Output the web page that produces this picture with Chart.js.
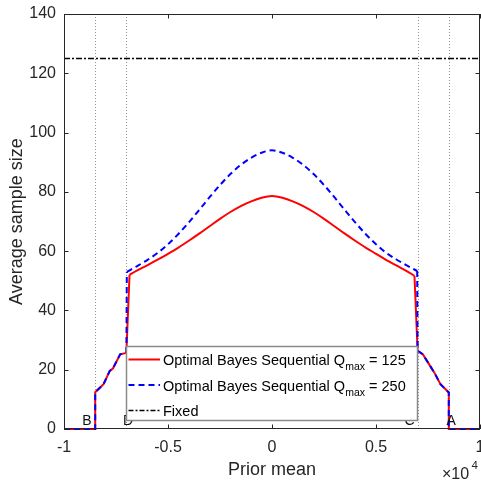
<!DOCTYPE html>
<html>
<head>
<meta charset="utf-8">
<script src="https://cdn.jsdelivr.net/npm/chart.js@4.4.1/dist/chart.umd.min.js"></script>
<style>
  html, body { margin: 0; padding: 0; background: #fff; }
  #wrap { width: 481px; height: 483px; }
</style>
</head>
<body>
<div id="wrap"><canvas id="chart" width="481" height="483"></canvas></div>
<script>
// ── data ──
// the flat/step parts at both ends (drawn straight)
const redLeftX = [-10000, -8500, -8500, -8100, -7800, -7650, -7300, -7050, -7000, -6850];
const redLeftY = [0, 0, 12.4, 15.1, 19.6, 20.4, 25.2, 25.6, 26, 52];
const redRightX = [6850, 7000, 7250, 7600, 7800, 8100, 8500, 8500, 10000];
const redRightY = [51.7, 26.4, 25.2, 21.3, 19.1, 15.1, 12.3, 0, 0];

const blueLeftX = [-10000, -8500, -8500, -8100, -7800, -7650, -7300, -7050, -7000, -6980];
const blueLeftY = [0, 0, 12.4, 15.1, 19.6, 20.4, 25.2, 25.6, 26, 53];
const blueRightX = [6980, 7000, 7250, 7600, 7800, 8100, 8500, 8500, 10000];
const blueRightY = [53.3, 26.4, 25.2, 21.3, 19.1, 15.1, 12.3, 0, 0];

// the smooth middle part
const redHumpX = [-6850, -6500, -6000, -5500, -5000, -4500, -4000, -3500, -3000, -2500, -2000,
  -1500, -1000, -500, 0, 500, 1000, 1500, 2000, 2500, 3000, 3500, 4000, 4500, 5000, 5500,
  6000, 6500, 6850];
const redHumpY = [52, 53.4, 55.2, 57.1, 59.1, 61.2, 63.5, 65.9, 68.4, 70.9, 73.2,
  75.2, 76.8, 78.0, 78.6, 78.0, 76.8, 75.2, 73.2, 70.9, 68.4, 65.9, 63.5, 61.2, 59.1, 57.0,
  55.1, 53.2, 51.7];

const blueHumpX = [-6980, -6500, -6000, -5500, -5000, -4500, -4000, -3500, -3000, -2500, -2000,
  -1500, -1000, -500, 0, 500, 1000, 1500, 2000, 2500, 3000, 3500, 4000, 4500, 5000, 5500,
  6000, 6500, 6980];
const blueHumpY = [53, 54.9, 57.0, 59.4, 62.3, 65.8, 69.7, 73.9, 78.2, 82.3, 86.0,
  89.1, 91.5, 93.2, 94, 93.2, 91.5, 89.1, 86.0, 82.3, 78.2, 73.9, 69.7, 65.8, 62.3, 59.4,
  57.1, 55.1, 53.3];

const fixedX = [-10000, 10000];
const fixedY = [125, 125];

const markerX = [-8500, -7000, 7000, 8500];       // dotted verticals
const letterText = ['B', 'D', 'C', 'A'];
const letterX = [-8900, -6920, 6610, 8610];
const letterY = [1.3, 1.3, 1.3, 1.3];

const xTicks = [-10000, -5000, 0, 5000, 10000];
const yTicks = [0, 20, 40, 60, 80, 100, 120, 140];

const legendNames = ['Optimal Bayes Sequential Q', 'Optimal Bayes Sequential Q', 'Fixed'];
const legendQmax = ['125', '250', null];

const pts = (xs, ys) => xs.map((x, i) => ({ x, y: ys[i] }));

const FONT = '"Liberation Sans", Arial, Helvetica, sans-serif';
const AXIS = '#262626';
const RED = '#ff0000';
const BLUE = '#0000ff';

const redLine = (data, smooth) => ({
  data, borderColor: RED, borderWidth: 2, pointRadius: 0, clip: 3, order: 2,
  tension: 0, cubicInterpolationMode: smooth ? 'monotone' : 'default',
});
const blueLine = (data, smooth) => ({
  data, borderColor: BLUE, borderWidth: 2, borderDash: [6, 4], pointRadius: 0, clip: 3, order: 1,
  tension: 0, cubicInterpolationMode: smooth ? 'monotone' : 'default',
});

// ── extra drawing: dotted guides, letters, box + inner ticks, legend ──
const decor = {
  id: 'decor',
  beforeDatasetsDraw(chart) {
    const { ctx, chartArea: a, scales: { x } } = chart;
    ctx.save();
    ctx.strokeStyle = '#777';
    ctx.lineWidth = 0.8;
    ctx.setLineDash([1, 2]);
    markerX.forEach(v => {
      const px = Math.round(x.getPixelForValue(v)) + 0.5;
      ctx.beginPath();
      ctx.moveTo(px, a.top);
      ctx.lineTo(px, a.bottom);
      ctx.stroke();
    });
    ctx.restore();
  },
  afterDatasetsDraw(chart) {
    const { ctx, chartArea: a, scales: { x, y } } = chart;
    ctx.save();
    // letters
    ctx.fillStyle = '#111';
    ctx.font = '14px ' + FONT;
    ctx.textAlign = 'center';
    ctx.textBaseline = 'alphabetic';
    letterText.forEach((t, i) => {
      ctx.fillText(t, x.getPixelForValue(letterX[i]), y.getPixelForValue(letterY[i]));
    });
    // box
    ctx.strokeStyle = AXIS;
    ctx.lineWidth = 1;
    ctx.strokeRect(a.left + 0.5, a.top + 0.5, a.right - a.left - 1, a.bottom - a.top - 1);
    // inner ticks
    const tl = 4.5;
    ctx.beginPath();
    xTicks.forEach(v => {
      const px = Math.round(x.getPixelForValue(v)) + 0.5;
      ctx.moveTo(px, a.bottom); ctx.lineTo(px, a.bottom - tl);
      ctx.moveTo(px, a.top); ctx.lineTo(px, a.top + tl);
    });
    yTicks.forEach(v => {
      const py = Math.round(y.getPixelForValue(v)) + 0.5;
      ctx.moveTo(a.left, py); ctx.lineTo(a.left + tl, py);
      ctx.moveTo(a.right, py); ctx.lineTo(a.right - tl, py);
    });
    ctx.stroke();
    ctx.restore();
  },
  afterDraw(chart) {
    const { ctx } = chart;
    ctx.save();
    // x10^4 exponent
    ctx.fillStyle = '#262626';
    ctx.textBaseline = 'alphabetic';
    ctx.textAlign = 'left';
    ctx.font = '16px ' + FONT;
    ctx.fillText('\u00d710', 442, 479);
    ctx.font = '11.5px ' + FONT;
    ctx.fillText('4', 471.5, 469);

    // legend
    const box = { l: 126.5, t: 346.5, r: 417.5, b: 420.5 };
    ctx.fillStyle = '#fff';
    ctx.fillRect(box.l, box.t, box.r - box.l, box.b - box.t);
    ctx.strokeStyle = '#8a8a8a';
    ctx.lineWidth = 1.5;
    ctx.strokeRect(box.l, box.t, box.r - box.l, box.b - box.t);

    const rows = [365, 390.5, 416];
    const samples = [
      { color: RED, dash: [], width: 2 },
      { color: BLUE, dash: [6, 4], width: 2 },
      { color: '#000', dash: [5, 2, 2, 2], width: 1.5 },
    ];
    rows.forEach((base, i) => {
      const s = samples[i];
      ctx.strokeStyle = s.color;
      ctx.lineWidth = s.width;
      ctx.setLineDash(s.dash);
      ctx.beginPath();
      ctx.moveTo(128.5, base - 5.5);
      ctx.lineTo(160, base - 5.5);
      ctx.stroke();
      ctx.setLineDash([]);

      ctx.fillStyle = '#000';
      ctx.font = '14.5px ' + FONT;
      let tx = 163;
      ctx.fillText(legendNames[i], tx, base);
      tx += ctx.measureText(legendNames[i]).width;
      if (legendQmax[i]) {
        ctx.font = '10.5px ' + FONT;
        ctx.fillText('max', tx, base + 5);
        tx += ctx.measureText('max').width;
        ctx.font = '14.5px ' + FONT;
        ctx.fillText(' = ' + legendQmax[i], tx, base);
      }
    });
    ctx.restore();
  }
};

new Chart(document.getElementById('chart'), {
  type: 'line',
  data: {
    datasets: [
      redLine(pts(redLeftX, redLeftY), false),
      redLine(pts(redHumpX, redHumpY), true),
      redLine(pts(redRightX, redRightY), false),
      blueLine(pts(blueLeftX, blueLeftY), false),
      blueLine(pts(blueHumpX, blueHumpY), true),
      blueLine(pts(blueRightX, blueRightY), false),
      {
        data: pts(fixedX, fixedY),
        borderColor: '#000',
        borderWidth: 1.5,
        borderDash: [6, 2, 2, 2],
        pointRadius: 0,
        tension: 0,
        order: 0,
      },
    ],
  },
  options: {
    responsive: false,
    animation: false,
    devicePixelRatio: 1,
    layout: { padding: { top: 14, right: 1, left: 0, bottom: 0 } },
    plugins: { legend: { display: false }, tooltip: { enabled: false } },
    scales: {
      x: {
        type: 'linear',
        min: -10000,
        max: 10000,
        afterBuildTicks: s => { s.ticks = xTicks.map(v => ({ value: v })); },
        afterFit: s => { s.height = 54; s.paddingLeft = 0; s.paddingRight = 0; },
        grid: { display: false, drawTicks: false },
        border: { display: false },
        ticks: {
          color: '#262626',
          font: { family: FONT, size: 16 },
          padding: 9,
          maxRotation: 0,
          autoSkip: false,
          callback: v => String(v / 10000),
        },
        title: {
          display: true,
          text: 'Prior mean',
          color: '#262626',
          font: { family: FONT, size: 18 },
          padding: { top: 0, bottom: 2 },
        },
      },
      y: {
        min: 0,
        max: 140,
        afterBuildTicks: s => { s.ticks = yTicks.map(v => ({ value: v })); },
        afterFit: s => { s.width = 64; s.paddingTop = 0; s.paddingBottom = 0; },
        grid: { display: false, drawTicks: false },
        border: { display: false },
        ticks: {
          color: '#262626',
          font: { family: FONT, size: 16 },
          padding: 8,
          autoSkip: false,
        },
        title: {
          display: true,
          text: 'Average sample size',
          color: '#262626',
          font: { family: FONT, size: 18 },
          padding: { top: 6, bottom: 0 },
        },
      },
    },
  },
  plugins: [decor],
});
</script>
</body>
</html>
